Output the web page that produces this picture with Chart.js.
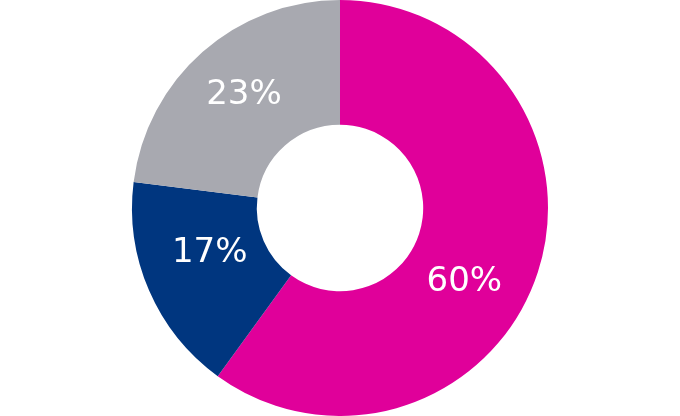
<!DOCTYPE html>
<html>
<head>
<meta charset="utf-8">
<script src="https://cdn.jsdelivr.net/npm/chart.js@4"></script>
<style>
  html, body { margin: 0; padding: 0; background: #fff; }
  #wrap { width: 680px; height: 416px; }
</style>
</head>
<body>
<div id="wrap"><canvas id="myChart"></canvas></div>
<script>
const labels = ["A", "B", "C"];
const shares = [60, 17, 23];
const colors = ["#E0009A", "#00367F", "#A8A9B0"];

// nudge each label a little around the ring (degrees) and out from centre
const labelTurn = [12, 5, 1.5];
const labelRadius = [0.69, 0.66, 0.72];

const pctLabels = {
  id: "pctLabels",
  afterDatasetsDraw(chart) {
    const ctx = chart.ctx;
    const meta = chart.getDatasetMeta(0);
    ctx.save();
    ctx.fillStyle = "#fff";
    ctx.font = "400 34px 'DejaVu Sans'";
    ctx.textAlign = "center";
    ctx.textBaseline = "middle";
    meta.data.forEach((arc, i) => {
      const p = arc.getProps(["x", "y", "startAngle", "endAngle", "outerRadius"], true);
      const a = (p.startAngle + p.endAngle) / 2 + labelTurn[i] * Math.PI / 180;
      const r = p.outerRadius * labelRadius[i];
      ctx.fillText(shares[i] + "%", p.x + Math.cos(a) * r, p.y + Math.sin(a) * r + 2);
    });
    ctx.restore();
  }
};

const ctx = document.getElementById("myChart");
new Chart(ctx, {
  type: "doughnut",
  data: {
    labels,
    datasets: [{
      data: shares,
      backgroundColor: colors,
      borderWidth: 0,
      hoverOffset: 0
    }]
  },
  options: {
    responsive: true,
    maintainAspectRatio: false,
    animation: false,
    cutout: "40%",
    layout: { padding: 0 },
    plugins: {
      legend: { display: false },
      tooltip: { enabled: false }
    }
  },
  plugins: [pctLabels]
});
</script>
</body>
</html>
